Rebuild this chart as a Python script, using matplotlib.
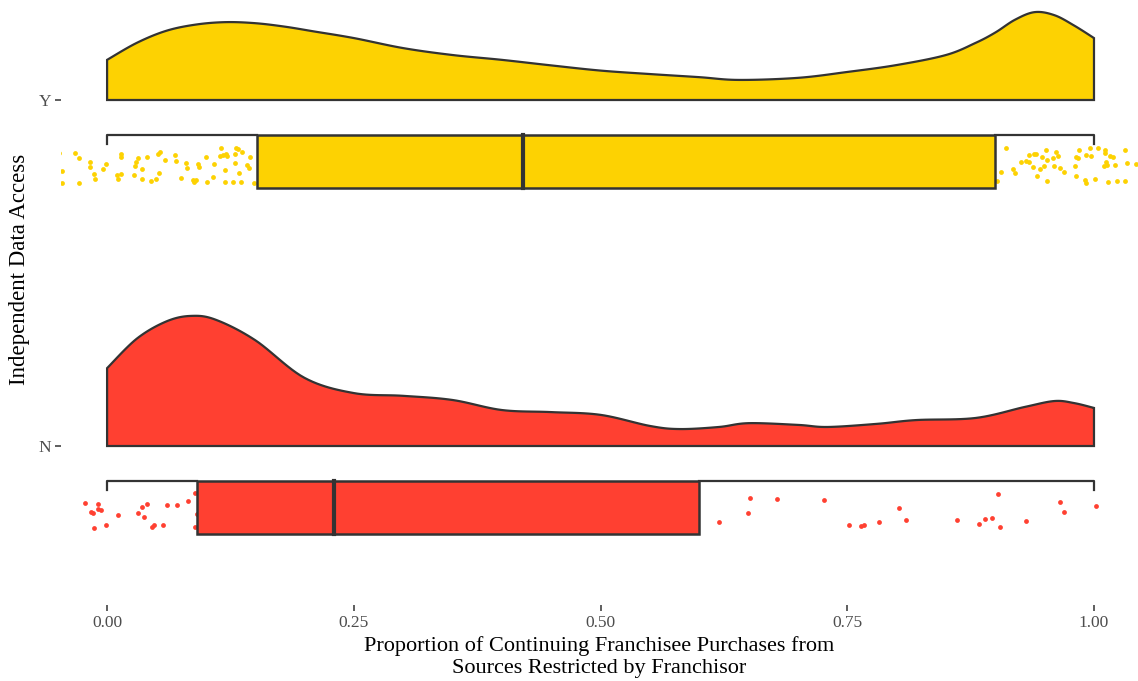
import matplotlib
matplotlib.use("Agg")
import matplotlib.pyplot as plt
import numpy as np

plt.rcParams['font.family'] = ['Liberation Serif', 'DejaVu Serif']

groups = ["N", "Y"]
colors = {"Y": "#FDD202", "N": "#FF4031"}
edge = "#333333"

# half-violin (density) outline; heights in category units
dens_x = {
    "Y": [0.0, 0.03, 0.06, 0.09, 0.12, 0.15, 0.18, 0.21, 0.25, 0.3, 0.35, 0.4, 0.45,
          0.5, 0.55, 0.6, 0.64, 0.7, 0.75, 0.8, 0.85, 0.88, 0.9, 0.92, 0.94, 0.96, 0.98, 1.0],
    "N": [0.0, 0.03, 0.06, 0.085, 0.11, 0.15, 0.2, 0.25, 0.3, 0.35, 0.4, 0.45, 0.5,
          0.55, 0.58, 0.62, 0.65, 0.7, 0.73, 0.78, 0.82, 0.88, 0.93, 0.96, 0.98, 1.0],
}
dens_h = {
    "Y": [0.116, 0.165, 0.200, 0.218, 0.225, 0.222, 0.212, 0.198, 0.179, 0.150, 0.130,
          0.116, 0.100, 0.085, 0.075, 0.066, 0.058, 0.064, 0.081, 0.101, 0.130, 0.165,
          0.195, 0.232, 0.254, 0.245, 0.215, 0.179],
    "N": [0.225, 0.310, 0.360, 0.376, 0.365, 0.306, 0.197, 0.153, 0.145, 0.133, 0.104,
          0.098, 0.090, 0.058, 0.049, 0.055, 0.066, 0.061, 0.055, 0.064, 0.075, 0.081,
          0.113, 0.130, 0.124, 0.110],
}

# box statistics
q1 = {"Y": 0.152, "N": 0.091}
med = {"Y": 0.421, "N": 0.230}
q3 = {"Y": 0.900, "N": 0.600}
wlo = {"Y": 0.0, "N": 0.0}
whi = {"Y": 1.0, "N": 1.0}

# jittered raw points (value, vertical offset from category)
pts_x = {
    "Y": [-0.049, -0.033, -0.028, -0.046, -0.046, -0.028, -0.017, -0.017, -0.013, -0.012,
          -0.004, -0.001, 0.014, 0.014, 0.010, 0.014, 0.011,
          0.031, 0.029, 0.028, 0.040, 0.035, 0.027, 0.035, 0.044, 0.050, 0.053, 0.052,
          0.054, 0.059, 0.069, 0.070, 0.080, 0.081, 0.075, 0.087, 0.088,
          0.092, 0.093, 0.100, 0.108, 0.114, 0.117, 0.120, 0.122, 0.115, 0.131, 0.133,
          0.130, 0.137, 0.145, 0.130, 0.142, 0.144, 0.119, 0.107, 0.134, 0.090, 0.101,
          0.119, 0.128, 0.136, 0.149,
          0.911, 0.906, 0.902, 0.918, 0.920, 0.926, 0.931, 0.934, 0.934, 0.939, 0.941,
          0.947, 0.951, 0.952, 0.958, 0.962, 0.964, 0.938, 0.945, 0.949, 0.959, 0.966,
          0.970, 0.942, 0.952,
          0.985, 0.996, 1.004, 1.011, 0.982, 0.984, 0.992, 0.997, 1.011, 1.016, 1.019,
          1.012, 1.013, 1.010, 1.021, 1.031, 1.033, 1.043, 0.981, 0.982, 0.991, 0.992,
          1.001, 1.014, 1.023, 1.031],
    "N": [0.620, 0.651, 0.649, 0.679, 0.726, 0.752, 0.764, 0.767, 0.782, 0.802, 0.810,
          0.861, 0.883, 0.890, 0.897, 0.903, 0.905, 0.931, 0.966, 0.970, 1.002,
          -0.022, -0.009, -0.016, -0.014, -0.009, -0.006, -0.013, -0.001, 0.011, 0.031,
          0.035, 0.040, 0.037, 0.046, 0.048, 0.057, 0.061, 0.071, 0.082, 0.089, 0.091,
          0.089],
}
pts_off = {
    "Y": [-0.154, -0.154, -0.168, -0.205, -0.239, -0.239, -0.178, -0.193, -0.215, -0.229,
          -0.200, -0.185, -0.156, -0.164, -0.217, -0.215, -0.227,
          -0.168, -0.178, -0.191, -0.166, -0.200, -0.217, -0.229, -0.233, -0.229, -0.210,
          -0.156, -0.149, -0.173, -0.159, -0.175, -0.181, -0.197, -0.226, -0.231, -0.236,
          -0.185, -0.195, -0.164, -0.185, -0.162, -0.159, -0.156, -0.162, -0.140, -0.140,
          -0.143, -0.156, -0.149, -0.164, -0.181, -0.188, -0.197, -0.202, -0.222, -0.212,
          -0.231, -0.236, -0.236, -0.236, -0.236, -0.239,
          -0.140, -0.207, -0.233, -0.200, -0.212, -0.178, -0.175, -0.159, -0.178, -0.156,
          -0.156, -0.164, -0.145, -0.173, -0.168, -0.149, -0.162, -0.195, -0.200, -0.191,
          -0.191, -0.197, -0.207, -0.220, -0.233,
          -0.145, -0.140, -0.140, -0.145, -0.164, -0.168, -0.159, -0.162, -0.154, -0.162,
          -0.166, -0.178, -0.188, -0.191, -0.188, -0.145, -0.183, -0.185, -0.191, -0.220,
          -0.231, -0.239, -0.229, -0.236, -0.233, -0.233],
    "N": [-0.221, -0.151, -0.195, -0.153, -0.156, -0.227, -0.231, -0.229, -0.219, -0.178,
          -0.215, -0.214, -0.225, -0.212, -0.209, -0.139, -0.233, -0.217, -0.162, -0.190,
          -0.174,
          -0.166, -0.168, -0.190, -0.195, -0.183, -0.185, -0.237, -0.229, -0.199, -0.195,
          -0.176, -0.168, -0.205, -0.233, -0.229, -0.228, -0.171, -0.170, -0.160, -0.137,
          -0.197, -0.233],
}

xticks = [0.0, 0.25, 0.5, 0.75, 1.0]
xticklabels = ["0.00", "0.25", "0.50", "0.75", "1.00"]


def smooth(x, y, steps=12):
    # catmull-rom through the read points, only to draw a rounded outline
    p = np.column_stack([x, y])
    p = np.vstack([p[0], p, p[-1]])
    out = []
    t = np.linspace(0, 1, steps, endpoint=False)[:, None]
    for k in range(1, len(p) - 2):
        p0, p1, p2, p3 = p[k - 1], p[k], p[k + 1], p[k + 2]
        seg = 0.5 * (2 * p1 + (-p0 + p2) * t + (2 * p0 - 5 * p1 + 4 * p2 - p3) * t ** 2
                     + (-p0 + 3 * p1 - 3 * p2 + p3) * t ** 3)
        out.append(seg)
    out.append(p[-2][None, :])
    out = np.vstack(out)
    return out[:, 0], out[:, 1]


fig = plt.figure(figsize=(11.38, 6.81), dpi=100)
ax = fig.add_axes([61 / 1138, 76 / 681, 1 - 61 / 1138, 1 - 76 / 681])

box_c = -0.177
box_h = 0.152
cap = 0.026

for i, g in enumerate(groups):
    base = i + 1
    c = colors[g]
    # density
    sx, sy = smooth(dens_x[g], dens_h[g])
    px = np.concatenate([[sx[0]], sx, [sx[-1]]])
    py = np.concatenate([[base], base + sy, [base]])
    ax.fill(px, py, facecolor=c, edgecolor=edge, linewidth=1.6, zorder=2)
    # raw points
    ax.scatter(pts_x[g], base + np.array(pts_off[g]), s=12, color=c, linewidths=0, zorder=3)
    # whiskers
    top = base + box_c + box_h / 2
    ax.plot([wlo[g], wlo[g], q1[g]], [top - cap, top, top], color=edge, lw=1.6, zorder=3)
    ax.plot([q3[g], whi[g], whi[g]], [top, top, top - cap], color=edge, lw=1.6, zorder=3)
    # box
    ax.barh(base + box_c, q3[g] - q1[g], left=q1[g], height=box_h, color=c,
            edgecolor=edge, linewidth=1.8, zorder=4)
    ax.plot([med[g], med[g]], [base + box_c - box_h / 2, base + box_c + box_h / 2],
            color=edge, lw=3, zorder=5)

ax.set_xlim(-0.0467, 1.0446)
ax.set_ylim(0.5405, 2.289)
ax.set_xticks(xticks)
ax.set_xticklabels(xticklabels)
ax.set_yticks([1, 2])
ax.set_yticklabels(groups)
for s in ax.spines.values():
    s.set_visible(False)
ax.tick_params(axis="both", colors="#333333", labelcolor="#4D4D4D", labelsize=12.5,
               length=4, width=1.1, pad=3)

fig.text(599 / 1138, 1 - 657 / 681,
         "Proportion of Continuing Franchisee Purchases from\nSources Restricted by Franchisor",
         ha="center", va="center", fontsize=16, linespacing=1.2)
fig.text(20 / 1138, 1 - 269 / 681, "Independent Data Access", rotation=90,
         ha="center", va="center", fontsize=16.5)

fig.savefig("out.png", dpi=100)
